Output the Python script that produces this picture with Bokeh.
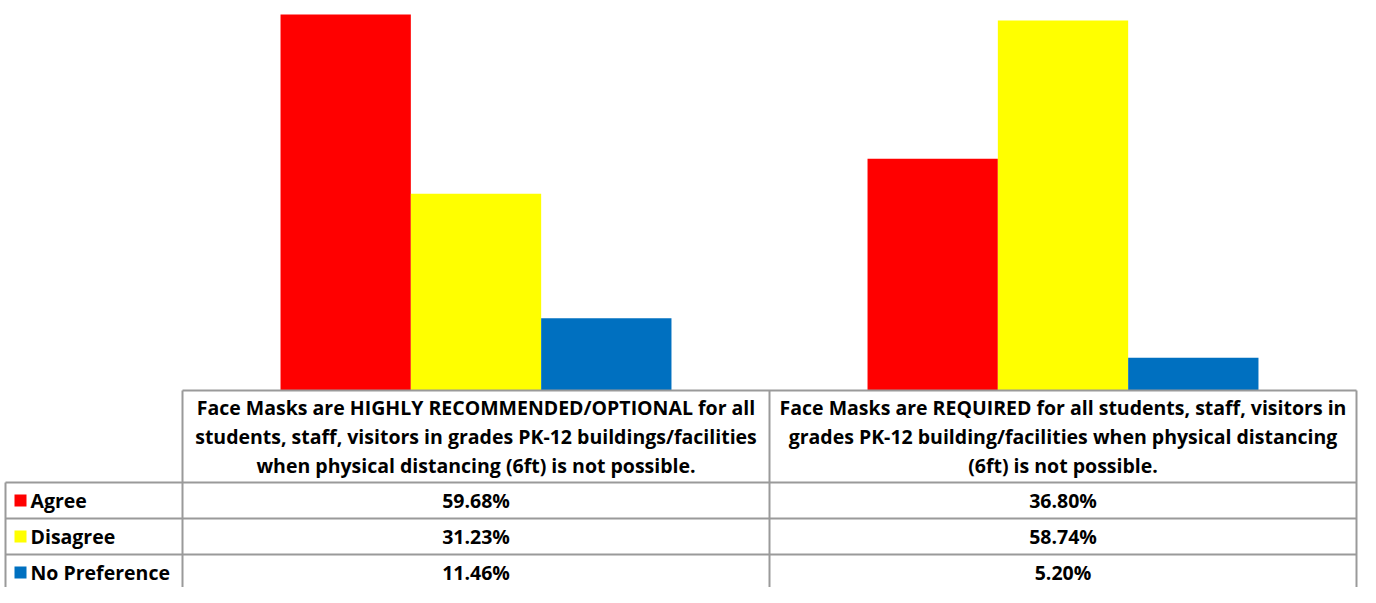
from bokeh.plotting import figure
from bokeh.models import Range1d, ColumnDataSource
from bokeh.embed import file_html
from bokeh.resources import INLINE
from bokeh.core.properties import value

# ---------------- data ----------------
category_lines = [
    ["Face Masks are HIGHLY RECOMMENDED/OPTIONAL for all",
     "students, staff, visitors in grades PK-12 buildings/facilities",
     "when physical distancing (6ft) is not possible."],
    ["Face Masks are REQUIRED for all students, staff, visitors in",
     "grades PK-12 building/facilities when physical distancing",
     "(6ft) is not possible."],
]
series = ["Agree", "Disagree", "No Preference"]
colors = ["#FF0000", "#FFFF00", "#0070C0"]
agree = [59.68, 36.80]
disagree = [31.23, 58.74]
no_preference = [11.46, 5.20]
values = [agree, disagree, no_preference]

# ---------------- layout ----------------
W, H = 1360, 587
PX_PER_Y = 6.3            # pixels per percentage point
BASE_PX = 390             # baseline distance from top of frame
U = 587.0                 # pixels per category
LABEL_W = 177 / U         # width of label column (category units)
HEADER_H = 92 / PX_PER_Y
ROW_H = 36 / PX_PER_Y
BAR_W = 0.222
FONT = value("Open Sans")
FS = "19.5px"
GRID = "#9a9a9a"

p = figure(width=W, height=H, output_backend="svg", toolbar_location=None,
           x_range=Range1d(-LABEL_W - 5 / U, 2 + 4 / U),
           y_range=Range1d(-(H - BASE_PX) / PX_PER_Y, BASE_PX / PX_PER_Y),
           min_border=0)
p.axis.visible = False
p.grid.visible = False
p.outline_line_color = None
p.background_fill_color = "white"

n_cat = len(category_lines)
offsets = [-BAR_W, 0, BAR_W]

# bars
for j, (name, col, vals) in enumerate(zip(series, colors, values)):
    src = ColumnDataSource(dict(x=[i + 0.5 + offsets[j] for i in range(n_cat)], top=vals))
    p.vbar(x="x", top="top", bottom=0, width=BAR_W, source=src,
           fill_color=col, line_color=None)

# table grid lines
ylo = p.y_range.start - 2
hx0, hx1, hy = [0], [n_cat], [0]
for r in range(len(series) + 1):
    hx0.append(-LABEL_W); hx1.append(n_cat); hy.append(-HEADER_H - r * ROW_H)
p.segment(x0=hx0, x1=hx1, y0=hy, y1=hy, line_color=GRID, line_width=2)
vx = [-LABEL_W] + [float(i) for i in range(n_cat + 1)]
vy0 = [-HEADER_H] + [0.0] * (n_cat + 1)
p.segment(x0=vx, x1=vx, y0=vy0, y1=[ylo] * len(vx), line_color=GRID, line_width=2)

# header text
line_off_px = [17, 46, 75]
tx, ty, tt = [], [], []
for i, lines in enumerate(category_lines):
    for k, ln in enumerate(lines):
        tx.append(i + 0.5); ty.append(-line_off_px[k] / PX_PER_Y); tt.append(ln)
p.text(x=tx, y=ty, text=tt, text_font=FONT, text_font_style="bold",
       text_font_size=FS, text_align="center", text_baseline="middle", text_color="black")

# values
vx_, vy_, vt_ = [], [], []
for r, vals in enumerate(values):
    for i, v in enumerate(vals):
        vx_.append(i + 0.5); vy_.append(-HEADER_H - (r + 0.5) * ROW_H); vt_.append(f"{v:.2f}%")
p.text(x=vx_, y=vy_, text=vt_, text_font=FONT, text_font_style="bold",
       text_font_size=FS, text_align="center", text_baseline="middle", text_color="black")

# row labels with legend keys
ry = [-HEADER_H - (r + 0.5) * ROW_H for r in range(len(series))]
p.scatter(x=[-LABEL_W + 15 / U] * len(series), y=ry, marker="square", size=12,
          fill_color=colors, line_color=None)
p.text(x=[-LABEL_W + 25 / U] * len(series), y=ry, text=series, text_font=FONT,
       text_font_style="bold", text_font_size=FS, text_align="left",
       text_baseline="middle", text_color="black")

open("out.html", "w").write(file_html(p, INLINE))
